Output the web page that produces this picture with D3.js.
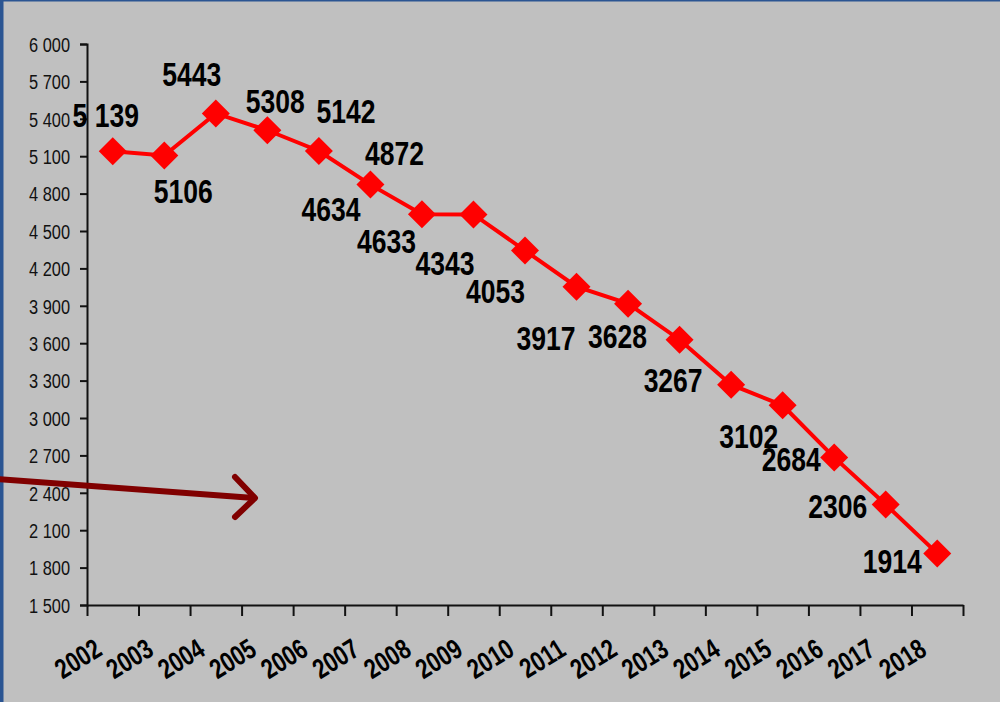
<!DOCTYPE html>
<html>
<head>
<meta charset="utf-8">
<script src="https://cdn.jsdelivr.net/npm/d3@7"></script>
<style>
  html, body { margin: 0; padding: 0; background: #c0c0c0; }
  svg { display: block; }
  .narrow { font-family: "Liberation Sans", Arial, sans-serif; }
</style>
</head>
<body>
<div id="chart"></div>
<script>
// data
var years = ["2002", "2003", "2004", "2005", "2006", "2007", "2008", "2009", "2010",
             "2011", "2012", "2013", "2014", "2015", "2016", "2017", "2018"];
var values = [5139, 5106, 5443, 5308, 5142, 4872, 4634, 4633, 4343,
              4053, 3917, 3628, 3267, 3102, 2684, 2306, 1914];
var valueLabels = ["5 139", "5106", "5443", "5308", "5142", "4872", "4634", "4633", "4343",
                   "4053", "3917", "3628", "3267", "3102", "2684", "2306", "1914"];
var yTicks = [1500, 1800, 2100, 2400, 2700, 3000, 3300, 3600, 3900, 4200, 4500, 4800, 5100, 5400, 5700, 6000];

// label placement relative to its point (layout only)
var labelOffsets = [[-7, -24], [19, 48], [-24, -27], [8, -17], [27, -28], [24, -20], [-91, 7], [-87, 39], [-80, 24],
                    [-81, 16], [-82, 46], [-62, 8], [-58, 7], [-34, 43], [-43, 14], [-48, 13], [-45, 20]];

var W = 1000, H = 702;
var margin = { left: 87, right: 37, top: 44, bottom: 97 };
var width = W - margin.left - margin.right,
    height = H - margin.top - margin.bottom;
var narrowX = 0.78;  // no Arial Narrow installed, squeeze Liberation Sans instead

var svg = d3.select('#chart').append('svg')
  .attr('width', W)
  .attr('height', H);

svg.append('rect').attr('width', W).attr('height', H).attr('fill', '#c0c0c0');
// frame
svg.append('rect').attr('x', 0).attr('y', 0).attr('width', W).attr('height', 1.5).attr('fill', '#2b5592');
svg.append('rect').attr('x', 0).attr('y', 0).attr('width', 3.5).attr('height', H).attr('fill', '#2b5592');

var g = svg.append('g')
  .attr('transform', 'translate(' + margin.left + ',' + margin.top + ')');

var xScale = d3.scaleBand().domain(years).range([0, width]).padding(0);
var xEdge = d3.scaleLinear().domain([0, years.length]).range([0, width]);
var yScale = d3.scaleLinear().domain([1500, 6000]).range([height, 0]);

var fmt = d3.formatLocale({ decimal: ",", thousands: " ", grouping: [3], currency: ["", ""] }).format(",d");

// y axis
var yAxisG = g.append('g')
  .attr('class', 'narrow')
  .call(d3.axisLeft(yScale).tickValues(yTicks).tickSize(7).tickFormat(''));
yAxisG.selectAll('line, path').attr('stroke', '#111').attr('stroke-width', 2);
yAxisG.selectAll('.tick').append('text')
  .attr('transform', 'translate(-17,0) scale(' + narrowX + ',1)')
  .attr('dy', '0.35em')
  .attr('text-anchor', 'end')
  .attr('font-size', 21)
  .attr('fill', '#111')
  .text(d => fmt(d));

// x axis (ticks at category edges)
var xAxisG = g.append('g')
  .attr('transform', 'translate(0,' + height + ')')
  .call(d3.axisBottom(xEdge).tickValues(d3.range(0, years.length + 1)).tickSize(11).tickSizeOuter(0).tickFormat(''));
xAxisG.selectAll('line, path').attr('stroke', '#111').attr('stroke-width', 2);

g.append('g').attr('class', 'narrow')
  .selectAll('text')
  .data(years)
  .enter().append('text')
  .attr('transform', d => 'translate(' + (xScale(d) + xScale.bandwidth() / 2 - 9) + ',' + (height + 49) + ') rotate(-32) scale(' + narrowX + ',1)')
  .attr('text-anchor', 'end')
  .attr('font-size', 28)
  .attr('font-weight', 'bold')
  .attr('fill', '#000')
  .text(d => d);

// arrow annotation
var arrow = svg.append('g')
  .attr('stroke', '#800000')
  .attr('stroke-width', 6)
  .attr('stroke-linecap', 'round')
  .attr('stroke-linejoin', 'round')
  .attr('fill', 'none');
arrow.append('line').attr('x1', -5).attr('y1', 479).attr('x2', 254).attr('y2', 498);
arrow.append('polyline').attr('points', '235,477 255,498 235,517');

// line + markers
var cx = (d, i) => xScale(years[i]) + xScale.bandwidth() / 2;
var line = d3.line()
  .x((d, i) => cx(d, i))
  .y(d => yScale(d));

g.append('path')
  .datum(values)
  .attr('d', line)
  .attr('fill', 'none')
  .attr('stroke', '#ff0000')
  .attr('stroke-width', 4);

var diamond = 'M0,-14L14,0L0,14L-14,0Z';
g.append('g').selectAll('path')
  .data(values)
  .enter().append('path')
  .attr('d', diamond)
  .attr('transform', (d, i) => 'translate(' + cx(d, i) + ',' + yScale(d) + ')')
  .attr('fill', '#ff0000');

// value labels
g.append('g').attr('class', 'narrow')
  .selectAll('text')
  .data(values)
  .enter().append('text')
  .attr('transform', (d, i) => 'translate(' + (cx(d, i) + labelOffsets[i][0]) + ',' + (yScale(d) + labelOffsets[i][1]) + ') scale(' + narrowX + ',1)')
  .attr('text-anchor', 'middle')
  .attr('font-size', 34)
  .attr('font-weight', 'bold')
  .attr('fill', '#000')
  .text((d, i) => valueLabels[i]);
</script>
</body>
</html>
